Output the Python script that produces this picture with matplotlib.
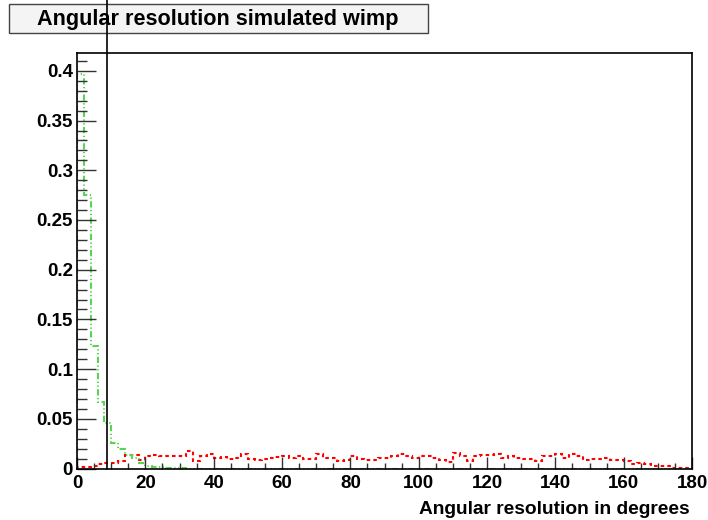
import matplotlib
matplotlib.use("Agg")
import matplotlib.pyplot as plt
import numpy as np
from matplotlib.lines import Line2D
from matplotlib.patches import Rectangle
from matplotlib.ticker import MultipleLocator
import matplotlib.transforms as mtransforms

plt.rcParams['font.family'] = ['Liberation Sans', 'DejaVu Sans']
plt.rcParams['font.weight'] = 'bold'

# 90 bins of 2 degrees, 0..180
bin_edges = np.arange(0, 182, 2)

# normalised angular resolution, reconstructed tracks (green)
green_vals = [0.397, 0.2754, 0.1234, 0.0673, 0.0458, 0.026, 0.020, 0.014, 0.011, 0.006,
              0.003, 0.002, 0.0015, 0.001, 0.0005, 0.0005] + [0.0] * 74

# normalised angular resolution, background (red)
red_vals = [0.0017, 0.002, 0.003, 0.005, 0.006, 0.006, 0.008, 0.0135, 0.014, 0.009,
            0.013, 0.014, 0.013, 0.0125, 0.0125,
            0.013, 0.018, 0.008, 0.0125, 0.015, 0.011, 0.012, 0.010, 0.011, 0.015,
            0.010, 0.009, 0.010, 0.011, 0.012,
            0.013, 0.011, 0.013, 0.010, 0.010, 0.015, 0.011, 0.011, 0.008, 0.009,
            0.013, 0.010, 0.009, 0.009, 0.011,
            0.0105, 0.0125, 0.015, 0.0125, 0.0105, 0.0125, 0.013, 0.0105, 0.009, 0.007,
            0.016, 0.013, 0.008, 0.0125, 0.014,
            0.014, 0.015, 0.011, 0.013, 0.011, 0.010, 0.010, 0.008, 0.013, 0.013,
            0.015, 0.011, 0.015, 0.013, 0.009,
            0.0095, 0.010, 0.011, 0.009, 0.0085, 0.008, 0.0045, 0.006, 0.0045, 0.003,
            0.0027, 0.0027, 0.001, 0.001, 0.0005]

cut_angle = 8.8

fig = plt.figure(figsize=(7.08, 5.2), dpi=100)
ax = fig.add_axes([77 / 708, 1 - 468.5 / 520, (692 - 77) / 708, (468.5 - 53) / 520])

ax.stairs(red_vals, bin_edges, color='#ff0000', lw=1.5, linestyle=(0, (1.7, 1.5)))
ax.stairs(green_vals, bin_edges, color='#59d454', lw=1.5,
          linestyle=(0, (3.0, 1.2, 0.6, 1.2, 0.6, 1.2)))

ax.set_xlim(0, 180)
ax.set_ylim(0, 0.418)

ax.xaxis.set_major_locator(MultipleLocator(20))
ax.xaxis.set_minor_locator(MultipleLocator(5))
ax.yaxis.set_major_locator(MultipleLocator(0.05))
ax.yaxis.set_minor_locator(MultipleLocator(0.01))
ax.xaxis.set_major_formatter(matplotlib.ticker.FuncFormatter(lambda v, p: '%g' % v))
ax.yaxis.set_major_formatter(matplotlib.ticker.FuncFormatter(lambda v, p: '%g' % round(v, 2)))

ax.tick_params(axis='both', which='both', direction='in', top=False, right=False,
               color='#333333', width=1.0, labelsize=13.5)
ax.tick_params(axis='x', which='major', length=9, pad=4.5)
ax.tick_params(axis='x', which='minor', length=4.5)
ax.tick_params(axis='y', which='major', length=13.5, pad=3)
ax.tick_params(axis='y', which='minor', length=7)
for lbl in ax.get_xticklabels() + ax.get_yticklabels():
    lbl.set_fontweight('bold')
for sp in ax.spines.values():
    sp.set_linewidth(1.2)
    sp.set_color('black')

# title box
fig.add_artist(Rectangle((9 / 708, 1 - 33 / 520), (428 - 9) / 708, 29 / 520,
                         transform=fig.transFigure, facecolor='#f4f4f4',
                         edgecolor='#444444', lw=1.0, zorder=3))
fig.text(218 / 708, 1 - 19 / 520, 'Angular resolution simulated wimp',
         ha='center', va='center', fontsize=15.6, fontweight='bold', zorder=4)

# cut line, running from the x axis up through the top of the figure
trans = mtransforms.blended_transform_factory(ax.transData, fig.transFigure)
fig.add_artist(Line2D([cut_angle, cut_angle], [1 - 468.5 / 520, 1.0], transform=trans,
                      color='black', lw=1.2, zorder=5))

fig.text(690 / 708, 1 - 509 / 520, 'Angular resolution in degrees',
         ha='right', va='center', fontsize=13.8, fontweight='bold')

fig.savefig('out.png', dpi=100)
